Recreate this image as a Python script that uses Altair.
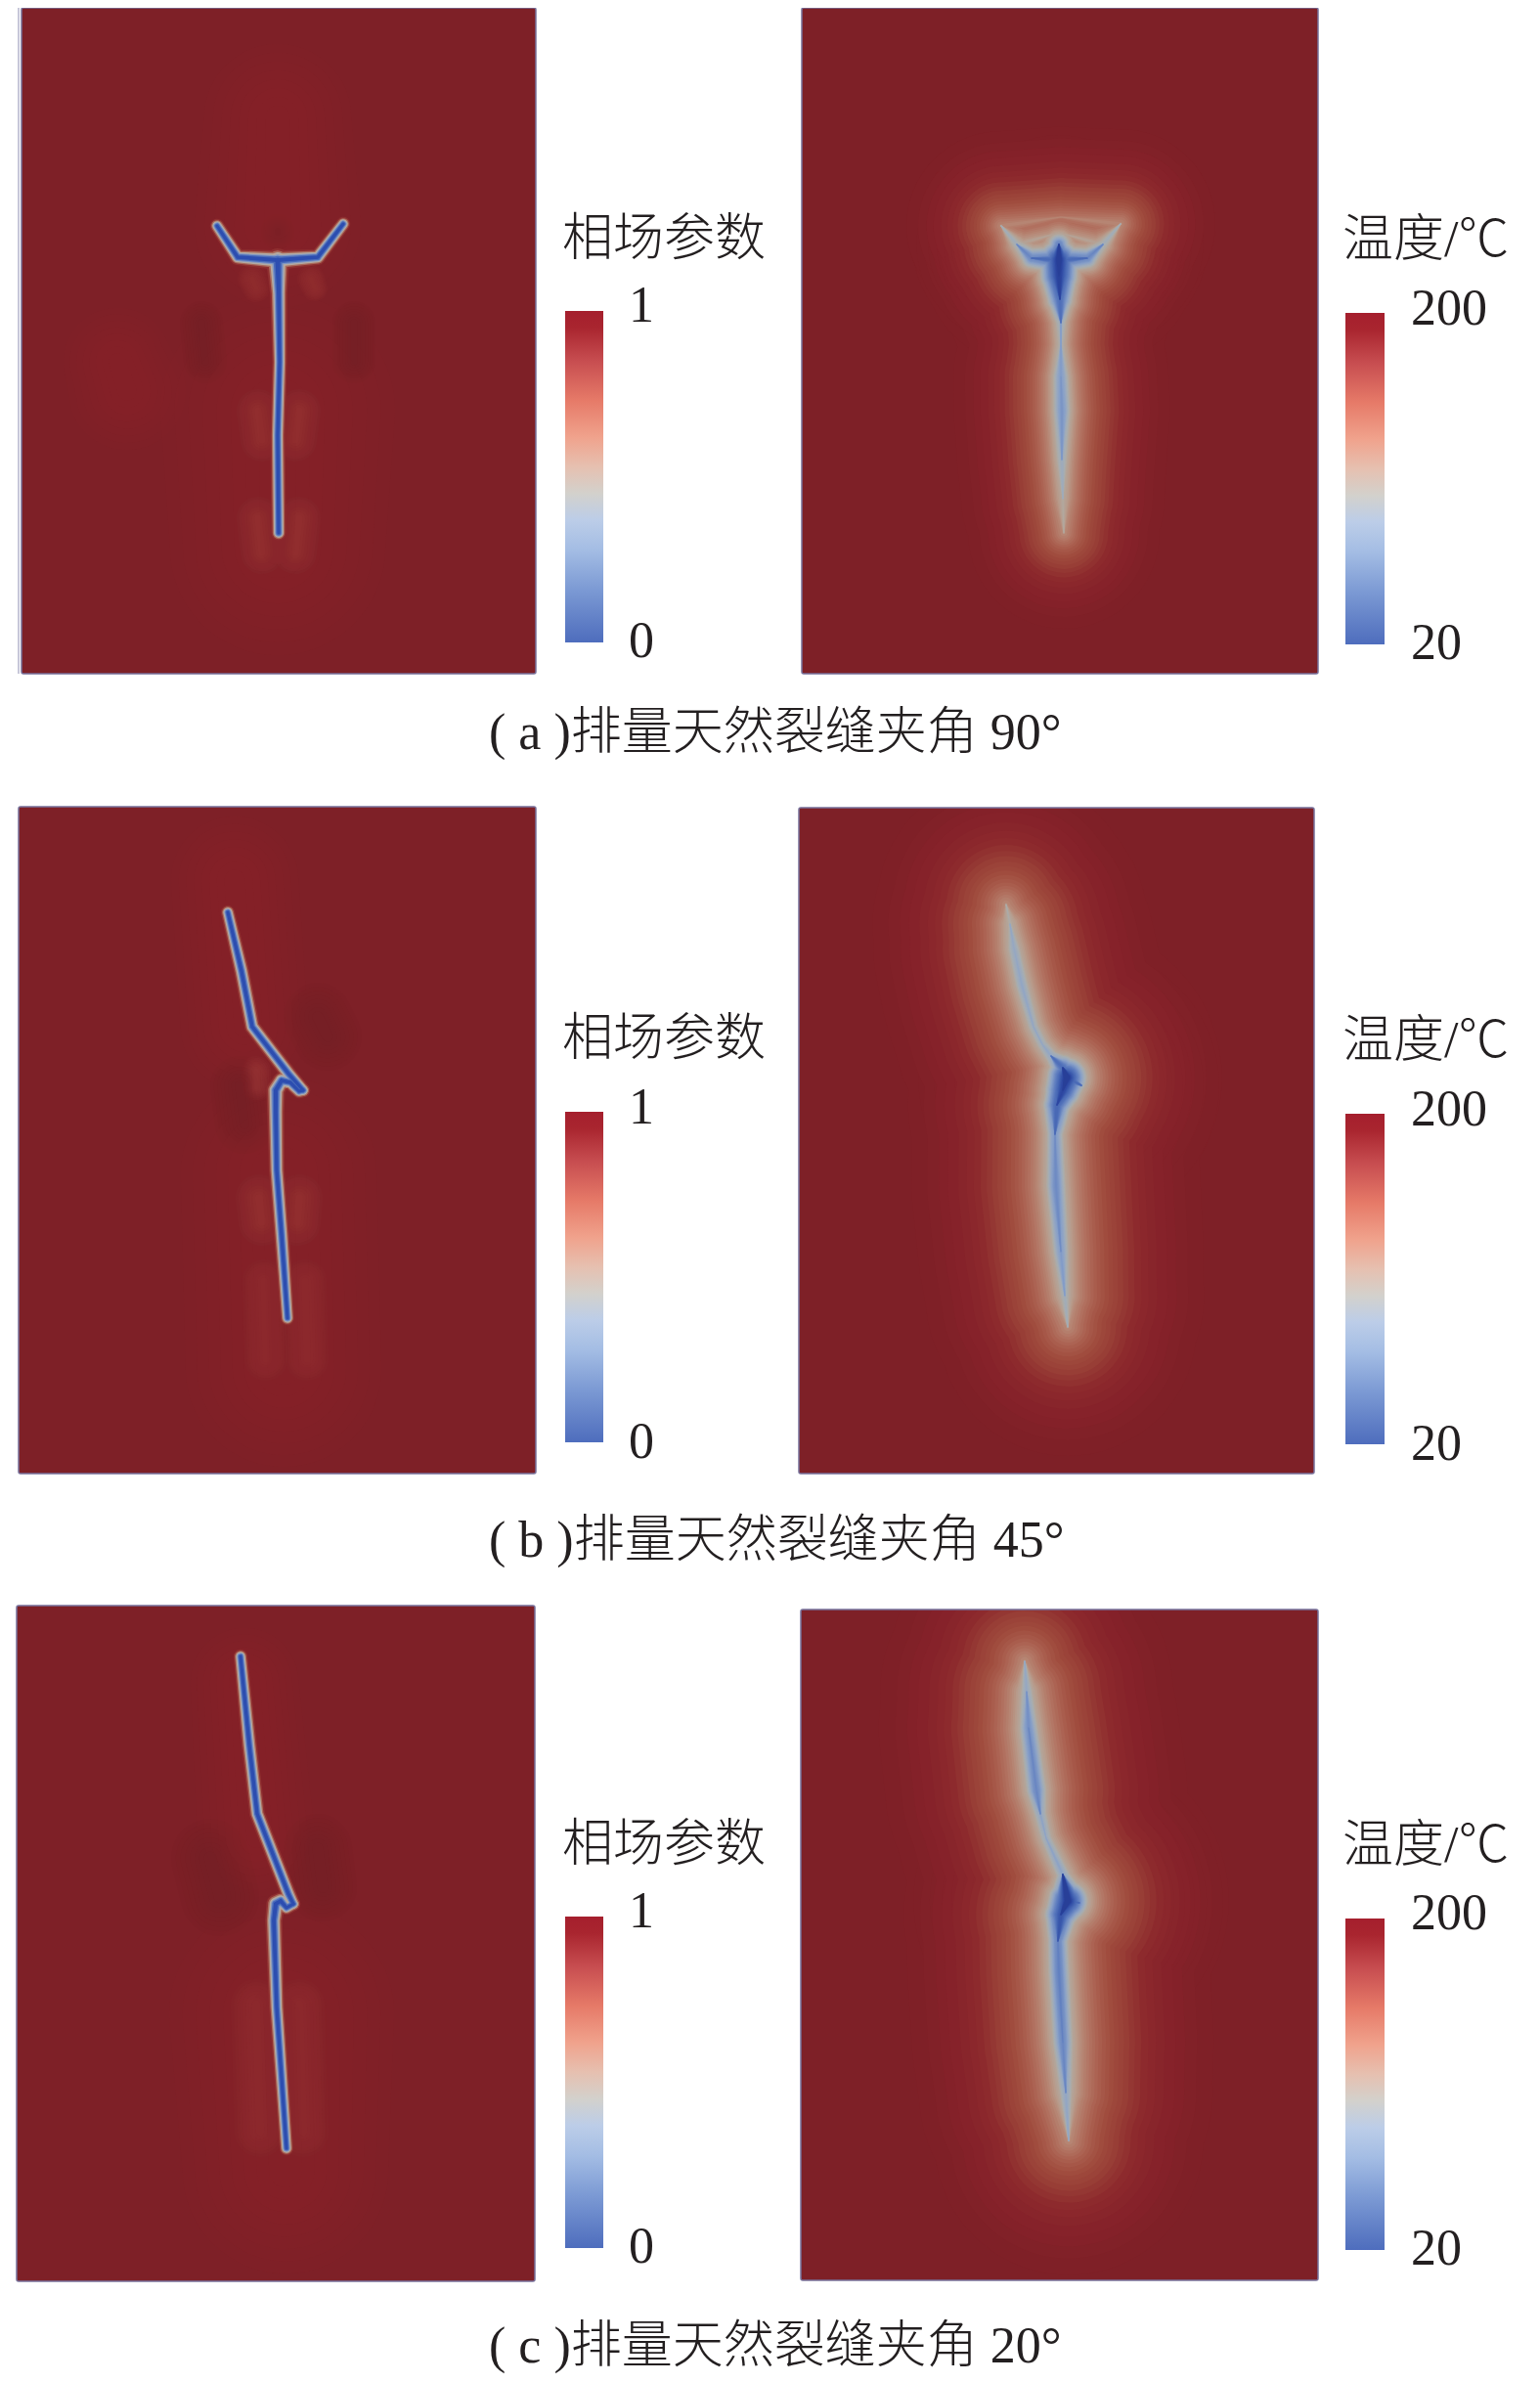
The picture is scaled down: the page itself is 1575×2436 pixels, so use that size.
import math
import altair as alt
import pandas as pd

# panels: x0, x1, y0, y1
panels = [
    (22, 548, 8, 689), (820, 1348, 8, 689),
    (19, 548, 825, 1507), (817, 1344, 826, 1507),
    (17, 547, 1642, 2333), (819, 1348, 1646, 2332),
]
BG = "#7e2027"

# colour bars: x0, x1, y0, y1
colorbars = [
    (578, 617, 318, 657), (1376, 1416, 320, 659),
    (578, 617, 1137, 1475), (1376, 1416, 1139, 1477),
    (578, 617, 1960, 2299), (1376, 1416, 1962, 2301),
]
bar_stops = [
    (0.0, "#a51f2d"), (0.05, "#a9252f"), (0.15, "#c74d50"), (0.27, "#e67a68"),
    (0.38, "#f0a28c"), (0.47, "#e6c0b0"), (0.55, "#d3d1cc"), (0.63, "#bccde8"),
    (0.72, "#a4bde4"), (0.84, "#7c9ad4"), (1.0, "#4e6dbd"),
]

# phase-field fractures: x, y, relative width
phase_paths = [
    [(222, 231, .9), (243, 263, 1), (284, 266, 1.25), (325, 263, 1), (351, 229, .9)],
    [(284, 266, 1.5), (285, 300, 1.1), (286, 370, .95), (284, 445, .95), (285, 545, .95)],
    [(233, 933, .9), (247, 993, 1), (258, 1050, 1), (295, 1098, 1), (310, 1115, .9)],
    [(310, 1115, .9), (306, 1116, .9), (297, 1107, 1), (288, 1105, 1.1), (282, 1115, 1.2),
     (282, 1137, 1.1), (283, 1197, 1), (288, 1263, 1), (294, 1348, .9)],
    [(246, 1694, .9), (255, 1785, 1), (263, 1855, 1), (295, 1937, 1), (300, 1947, .9)],
    [(300, 1947, .9), (293, 1951, .9), (287, 1944, 1.1), (282, 1947, 1.2), (280, 1964, 1.1),
     (283, 2053, 1), (293, 2197, .9)],
]
phase_levels = [(16, "#8f2f30"), (13, "#ab6a5a"), (10.5, "#b3aaa2"), (7.8, "#7f97c4"),
                (5.8, "#4a6cba"), (3.4, "#2c4db0")]

# soft lighter / darker patches in the phase-field panels: colour, then x, y, width
glow_paths = [
    ("#8a2329", [(284, 120, 150), (284, 230, 170)]),
    ("#8a2329", [(120, 370, 110), (130, 400, 120)]),
    ("#8a2329", [(284, 420, 240), (284, 560, 220)]),
    ("#952f33", [(258, 285, 30), (262, 295, 28)]),
    ("#952f33", [(318, 285, 28), (322, 295, 26)]),
    ("#9c3a3b", [(264, 420, 44), (268, 450, 44)]),
    ("#9c3a3b", [(306, 420, 44), (302, 450, 44)]),
    ("#9c3a3b", [(264, 530, 44), (268, 565, 44)]),
    ("#9c3a3b", [(306, 530, 44), (302, 565, 44)]),
    ("#761e25", [(206, 330, 44), (210, 370, 44)]),
    ("#761e25", [(362, 330, 44), (362, 370, 44)]),
    ("#761e25", [(284, 236, 34), (284, 238, 34)]),
    ("#8a2329", [(240, 900, 130), (250, 1050, 130)]),
    ("#8a2329", [(285, 1200, 200), (290, 1400, 200)]),
    ("#9c3a3b", [(262, 1095, 30), (262, 1112, 30)]),
    ("#9c3a3b", [(265, 1225, 48), (268, 1250, 48)]),
    ("#9c3a3b", [(306, 1225, 48), (304, 1250, 48)]),
    ("#972f33", [(270, 1310, 44), (272, 1390, 44)]),
    ("#972f33", [(312, 1310, 44), (314, 1390, 44)]),
    ("#761e25", [(245, 1110, 60), (250, 1150, 60)]),
    ("#761e25", [(325, 1040, 70), (335, 1060, 70)]),
    ("#8a2329", [(250, 1720, 110), (262, 1880, 120)]),
    ("#8a2329", [(288, 2060, 230), (292, 2220, 210)]),
    ("#972f33", [(262, 2050, 52), (266, 2180, 52)]),
    ("#972f33", [(306, 2050, 52), (310, 2180, 52)]),
    ("#761e25", [(215, 1900, 80), (225, 1940, 80)]),
    ("#761e25", [(325, 1890, 70), (330, 1930, 70)]),
]

# temperature fronts: outer width, then branches of x, y, cold intensity
temp_sets = [
    (34, [
        [(1083, 250, 1.25), (1083, 266, 2.25), (1083, 282, 2.1), (1084, 306, 1.45), (1085, 330, .95),
         (1085, 352, .88), (1085, 385, 1.08), (1086, 420, 1.12), (1086, 470, .95), (1087, 510, .82), (1088, 545, .68)],
        [(1083, 266, 1.5), (1055, 264, 1.2), (1040, 250, .92), (1024, 231, .66)],
        [(1083, 266, 1.5), (1112, 264, 1.2), (1128, 250, .92), (1146, 229, .66)],
        [(1024, 231, .66), (1085, 222, .58), (1146, 229, .66)],
        [(1040, 250, .78), (1083, 238, .72), (1128, 250, .78)],
    ]),
    (46, [
        [(1029, 925, .68), (1033, 945, .85), (1037, 970, .98), (1045, 1007, 1.0), (1057, 1050, .95),
         (1066, 1068, .95), (1075, 1080, 1.0), (1087, 1092, 1.45), (1091, 1102, 2.3), (1087, 1115, 2.0),
         (1081, 1130, 1.55), (1079, 1160, 1.1), (1080, 1213, 1.18), (1085, 1280, 1.08), (1089, 1325, .92),
         (1092, 1357, .68)],
        [(1091, 1102, 1.5), (1106, 1110, .86)],
    ]),
    (48, [
        [(1048, 1699, .68), (1050, 1730, .98), (1052, 1767, 1.15), (1060, 1831, 1.2), (1064, 1855, 1.0),
         (1070, 1880, .96), (1087, 1917, 1.02), (1092, 1944, 2.3), (1085, 1958, 1.8), (1082, 1985, 1.22),
         (1083, 2017, 1.25), (1087, 2089, 1.2), (1090, 2140, 1.0), (1093, 2189, .68)],
        [(1092, 1944, 1.5), (1104, 1946, .86)],
    ]),
]
temp_anchors = [
    (.04, "#7f2027"), (.09, "#86222a"), (.16, "#8d2a2d"), (.24, "#983e36"), (.33, "#a04c3e"),
    (.43, "#a95d4d"), (.53, "#b1705f"), (.63, "#b68573"), (.72, "#b89a8a"), (.80, "#b2a89e"),
    (.87, "#a7aeb2"), (.95, "#99a9c0"), (1.03, "#88a0c8"), (1.12, "#7590c4"), (1.22, "#6280c0"),
    (1.4, "#4f6fb9"), (1.65, "#3d5cae"), (1.9, "#2f4aa4"), (2.1, "#283f98"),
]

labels = [
    (575, 245, "left", 52, "相场参数"), (1373, 246, "left", 52, "温度/℃"),
    (575, 1063, "left", 52, "相场参数"), (1373, 1065, "left", 52, "温度/℃"),
    (575, 1887, "left", 52, "相场参数"), (1373, 1888, "left", 52, "温度/℃"),
    (656, 313, "center", 52, "1"), (656, 656, "center", 52, "0"),
    (1482, 316, "center", 52, "200"), (1469, 658, "center", 52, "20"),
    (656, 1133, "center", 52, "1"), (656, 1475, "center", 52, "0"),
    (1482, 1135, "center", 52, "200"), (1469, 1477, "center", 52, "20"),
    (656, 1955, "center", 52, "1"), (656, 2298, "center", 52, "0"),
    (1482, 1957, "center", 52, "200"), (1469, 2300, "center", 52, "20"),
    (500, 750, "left", 52, "( a )排量天然裂缝夹角 90°"),
    (500, 1576, "left", 52, "( b )排量天然裂缝夹角 45°"),
    (500, 2400, "left", 52, "( c )排量天然裂缝夹角 20°"),
]

x_scale = alt.Scale(domain=[8, 1567], nice=False, zero=False)
y_scale = alt.Scale(domain=[2428, 8], nice=False, zero=False)
X = alt.X("x:Q", scale=x_scale, axis=None)
Y = alt.Y("y:Q", scale=y_scale, axis=None)
FONT = "Liberation Serif, Noto Sans CJK SC"


def trail(rows, **mark):
    return alt.Chart(pd.DataFrame(rows)).mark_trail(**mark).encode(
        x=X, y=Y,
        size=alt.Size("w:Q", scale=None),
        detail="k:N",
        order=alt.Order("o:Q"),
        color=alt.Color("c:N", scale=None),
    )


def mix(a, b, t):
    pa = [int(a[i:i + 2], 16) for i in (1, 3, 5)]
    pb = [int(b[i:i + 2], 16) for i in (1, 3, 5)]
    return "#%02x%02x%02x" % tuple(round(p + (q - p) * t) for p, q in zip(pa, pb))


# finer colour steps between the read anchors
temp_levels = []
for (l0, c0), (l1, c1) in zip(temp_anchors, temp_anchors[1:]):
    for i in range(3):
        t = i / 3
        temp_levels.append((l0 + (l1 - l0) * t, mix(c0, c1, t)))
temp_levels.append(temp_anchors[-1])

layers = []

# panel backgrounds
pdf = pd.DataFrame(panels, columns=["x", "x2", "y", "y2"])
layers.append(alt.Chart(pdf).mark_rect(color=BG).encode(x=X, x2="x2:Q", y=Y, y2="y2:Q"))

# soft patches, stacked so that the edge fades out
for f in [1.0, .88, .76, .64, .52, .4, .28, .16]:
    rows = []
    for k, (col, pts) in enumerate(glow_paths):
        for o, (x, y, w) in enumerate(pts):
            rows.append(dict(x=x, y=y, w=w * f, k=k, o=o, c=col))
    layers.append(trail(rows, opacity=.16))

# phase-field fractures
for width, col in phase_levels:
    rows = []
    for k, pts in enumerate(phase_paths):
        for o, (x, y, r) in enumerate(pts):
            rows.append(dict(x=x, y=y, w=width * r, k=k, o=o, c=col))
    layers.append(trail(rows))


# temperature fields
def half_width(c, level, W):
    if c <= level:
        return 0.0
    out = 0.0
    if level < .8:
        out += W * math.log(min(c, .8) / level)
    lo, hi = max(level, .8), min(c, 1.2)
    if hi > lo:
        out += 22 * math.log(hi / lo)
    if c > 1.2:
        out += 16 * math.log(c / max(level, 1.2))
    return out + 1.5 * min(1, (c - level) / .1)


for level, col in temp_levels:
    rows = []
    k = 0
    for W, branches in temp_sets:
        for pts in branches:
            widths = [2 * half_width(c, level, W) for _, _, c in pts]
            run_open = False
            for o, (x, y, c) in enumerate(pts):
                near = widths[o] > 0 or (o > 0 and widths[o - 1] > 0) or (o + 1 < len(pts) and widths[o + 1] > 0)
                if near:
                    rows.append(dict(x=x, y=y, w=widths[o], k=k, o=o, c=col))
                    run_open = True
                elif run_open:
                    k += 1
                    run_open = False
            k += 1
    if rows:
        layers.append(trail(rows))

# white above and below each panel keeps the soft fields inside it
mask_rows = []
for x0, x1, y0, y1 in panels:
    mask_rows.append(dict(x=x0 - 6, x2=x1 + 6, y=y1, y2=y1 + 90))
    if y0 > 100:
        mask_rows.append(dict(x=x0 - 6, x2=x1 + 6, y=y0 - 90, y2=y0))
layers.append(alt.Chart(pd.DataFrame(mask_rows)).mark_rect(color="white").encode(x=X, x2="x2:Q", y=Y, y2="y2:Q"))

# panel borders
layers.append(alt.Chart(pdf).mark_rect(fillOpacity=0, stroke="#77709a", strokeWidth=1.5, cornerRadius=2).encode(
    x=X, x2="x2:Q", y=Y, y2="y2:Q"))

# pale edge of the first panel
layers.append(alt.Chart(pd.DataFrame([{"x": 19, "y": 8, "y2": 689}])).mark_rule(color="#b4b4cc", strokeWidth=1.5).encode(
    x=X, y=Y, y2="y2:Q"))

# colour bars
grad = alt.Gradient(gradient="linear", x1=0, x2=0, y1=0, y2=1,
                    stops=[alt.GradientStop(offset=o, color=c) for o, c in bar_stops])
bdf = pd.DataFrame(colorbars, columns=["x", "x2", "y", "y2"])
layers.append(alt.Chart(bdf).mark_bar(color=grad).encode(x=X, x2="x2:Q", y=Y, y2="y2:Q"))

# text
tdf = pd.DataFrame(labels, columns=["x", "y", "a", "s", "t"])
for align in ["left", "center"]:
    for size in sorted(set(tdf[tdf.a == align].s)):
        sub = tdf[(tdf.a == align) & (tdf.s == size)]
        layers.append(alt.Chart(sub).mark_text(
            align=align, baseline="middle", font=FONT, fontSize=int(size), color="#231f20", fontWeight=300
        ).encode(x=X, y=Y, text="t:N"))

chart = alt.layer(*layers).properties(
    width=1559, height=2420, padding=0, background="white",
    autosize=alt.AutoSizeParams(type="none"),
).configure_view(stroke=None)
chart.save("out.html", embed_options={"renderer": "svg", "actions": False})
